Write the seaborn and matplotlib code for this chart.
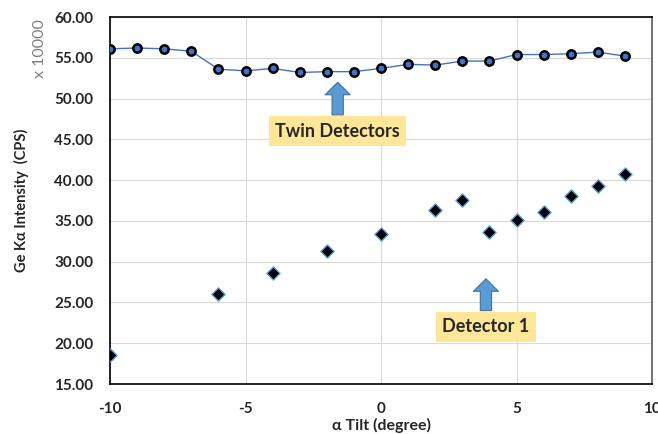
import pandas as pd
import seaborn as sns
import matplotlib.pyplot as plt

# valores (intensidade x 10000)
tilt_twin = [-10, -9, -8, -7, -6, -5, -4, -3, -2, -1, 0, 1, 2, 3, 4, 5, 6, 7, 8, 9]
cps_twin = [56.1, 56.2, 56.1, 55.8, 53.6, 53.4, 53.7, 53.2, 53.3, 53.3,
            53.7, 54.2, 54.1, 54.6, 54.6, 55.4, 55.4, 55.5, 55.7, 55.2]

tilt_det1 = [-10, -6, -4, -2, 0, 2, 3, 4, 5, 6, 7, 8, 9]
cps_det1 = [18.6, 26.0, 28.6, 31.3, 33.4, 36.3, 37.6, 33.6, 35.1, 36.1, 38.0, 39.3, 40.8]

x_ticks = [-10, -5, 0, 5, 10]
y_ticks = [15, 20, 25, 30, 35, 40, 45, 50, 55, 60]

df_twin = pd.DataFrame({'tilt': tilt_twin, 'cps': cps_twin})
df_det1 = pd.DataFrame({'tilt': tilt_det1, 'cps': cps_det1})

sns.set_style('whitegrid', {'grid.color': '#D9D9D9'})
plt.rcParams['font.family'] = ['Lato', 'DejaVu Sans']
plt.rcParams['axes.unicode_minus'] = False

fig = plt.figure(figsize=(6.58, 4.34), dpi=100)
ax = fig.add_axes([0.1672, 0.1152, 0.8238, 0.8456])

sns.lineplot(data=df_twin, x='tilt', y='cps', ax=ax, color='#4472C4', linewidth=1,
             marker='o', markersize=6, markerfacecolor='#4472C4',
             markeredgecolor='black', markeredgewidth=1.8, zorder=3)
sns.scatterplot(data=df_det1, x='tilt', y='cps', ax=ax, marker='D', s=45,
                color='black', edgecolor='#5B9BD5', linewidth=1, zorder=3)

ax.set_xlim(-10, 10)
ax.set_ylim(15, 60)
ax.set_xticks(x_ticks)
ax.set_yticks(y_ticks)
ax.set_yticklabels([f'{v:.2f}' for v in y_ticks])
ax.tick_params(axis='y', labelsize=11, length=0, pad=12)
ax.tick_params(axis='x', labelsize=11, length=0, pad=13)
for lbl in ax.get_xticklabels() + ax.get_yticklabels():
    lbl.set_fontweight('bold')

ax.set_xlabel('α Tilt (degree)', fontsize=11.5, fontweight='bold', labelpad=1)
ax.set_ylabel('Ge Kα Intensity  (CPS)', fontsize=10.5, fontweight='bold', labelpad=18)
fig.text(0.061, 0.889, 'x 10000', rotation=90, ha='center', va='center',
         fontsize=11.5, color='#7F7F7F')

for side in ['left', 'bottom', 'top']:
    ax.spines[side].set_color('black')
    ax.spines[side].set_linewidth(1.2)
ax.spines['right'].set_color('#595959')
ax.spines['right'].set_linewidth(1.2)

# setas e caixas de texto
arrow = dict(arrowstyle='simple,head_length=0.5,head_width=1.0,tail_width=0.45',
             mutation_scale=18, shrinkA=0, shrinkB=0,
             fc='#5B9BD5', ec='#41719C', lw=0.8)
ax.annotate('', xy=(-1.6, 52.0), xytext=(-1.6, 48.0), arrowprops=arrow)
ax.annotate('', xy=(3.87, 27.9), xytext=(3.87, 24.0), arrowprops=arrow)

box = dict(boxstyle='square,pad=0.35', fc='#FFE699', ec='none')
ax.text(-1.6, 46.0, 'Twin Detectors', ha='center', va='center', fontsize=13,
        fontweight='bold', bbox=box, zorder=4)
ax.text(3.87, 22.0, 'Detector 1', ha='center', va='center', fontsize=13,
        fontweight='bold', bbox=box, zorder=4)

fig.savefig('out.png', dpi=100)
